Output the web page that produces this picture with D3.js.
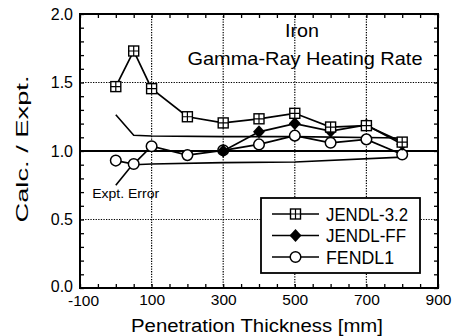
<!DOCTYPE html>
<html><head><meta charset="utf-8">
<script src="https://cdn.jsdelivr.net/npm/d3@7"></script>
<style>body{margin:0;background:#fff}svg{display:block}text{font-family:"Liberation Sans",Arial,sans-serif;fill:#000}</style>
</head><body><svg id="c" width="460" height="336"></svg>
<script>
const xLabels = [-100, 100, 300, 500, 700, 900];
const yLabels = [0.0, 0.5, 1.0, 1.5, 2.0];
const xGrid = [100, 300, 500, 700];
const yGrid = [0.5, 1.5];
const thick = [0, 50, 100, 200, 300, 400, 500, 600, 700, 800];
const jendl32 = [1.47, 1.73, 1.455, 1.25, 1.205, 1.235, 1.275, 1.175, 1.185, 1.065];
const ffThick = [300, 400, 500, 600, 700, 800];
const jendlFF = [1.0, 1.14, 1.2, 1.145, 1.19, 1.05];
const fendl1 = [0.93, 0.905, 1.035, 0.97, 1.005, 1.048, 1.112, 1.06, 1.085, 0.975];
const errThick = [0, 50, 100, 300, 500, 800];
const errUpper = [1.265, 1.115, 1.11, 1.105, 1.105, 1.095];
const errLower = [null, 0.90, 0.905, 0.915, 0.92, 0.955];
const seriesNames = ["JENDL-3.2", "JENDL-FF", "FENDL1"];

const svg = d3.select("#c");
const x = d3.scaleLinear([-100, 900], [80, 438]);
const y = d3.scaleLinear([0, 2], [288, 14]);

// grid
svg.append("g").selectAll("line").data(xGrid).join("line")
  .attr("x1", d => x(d)).attr("x2", d => x(d)).attr("y1", y(0)).attr("y2", y(2))
  .attr("stroke", "#000").attr("stroke-width", 1.2).attr("stroke-dasharray", "1.3,1.3");
svg.append("g").selectAll("line").data(yGrid).join("line")
  .attr("y1", d => y(d)).attr("y2", d => y(d)).attr("x1", x(-100)).attr("x2", x(900))
  .attr("stroke", "#000").attr("stroke-width", 1.2).attr("stroke-dasharray", "1.3,1.3");
svg.append("line").attr("x1", x(-100)).attr("x2", x(900)).attr("y1", y(1)).attr("y2", y(1))
  .attr("stroke", "#000").attr("stroke-width", 2);

// minor ticks via axes
const xMinor = d3.range(-100, 901, 50), yMinor = d3.range(0, 2.001, 0.1);
function tickAxis(gen, tr) {
  const g = svg.append("g").attr("transform", tr).call(gen);
  g.select(".domain").remove(); g.selectAll("text").remove();
  g.selectAll("line").attr("stroke-width", 1.3);
}
tickAxis(d3.axisBottom(x).tickValues(xMinor).tickSize(-4), `translate(0,${y(0)})`);
tickAxis(d3.axisTop(x).tickValues(xMinor).tickSize(-4), `translate(0,${y(2)})`);
tickAxis(d3.axisLeft(y).tickValues(yMinor).tickSize(-4), `translate(${x(-100)},0)`);
tickAxis(d3.axisRight(y).tickValues(yMinor).tickSize(-4), `translate(${x(900)},0)`);

// labels
const xa = svg.append("g").attr("transform", `translate(0,${y(0)})`)
  .call(d3.axisBottom(x).tickValues(xLabels).tickSize(0).tickPadding(6).tickFormat(d => String(d)));
xa.select(".domain").remove();
xa.selectAll("text").attr("font-size", 15.5).attr("font-family", "Liberation Sans, Arial, sans-serif")
  .attr("dx", d => d === -100 ? 3 : 0).attr("dy", d => d === -100 ? "0.78em" : "0.71em");
const ya = svg.append("g").attr("transform", `translate(${x(-100)},0)`)
  .call(d3.axisLeft(y).tickValues(yLabels).tickSize(0).tickPadding(7).tickFormat(d3.format(".1f")));
ya.select(".domain").remove();
ya.selectAll("text").attr("font-size", 16).attr("font-family", "Liberation Sans, Arial, sans-serif")
  .attr("dy", d => d === 0 ? "0.22em" : "0.32em");

// frame
svg.append("rect").attr("x", x(-100)).attr("y", y(2)).attr("width", x(900) - x(-100)).attr("height", y(0) - y(2))
  .attr("fill", "none").attr("stroke", "#000").attr("stroke-width", 2);

// error band
const line = d3.line().defined(d => d[1] != null).x(d => x(d[0])).y(d => y(d[1]));
svg.append("path").attr("d", line(errThick.map((t, i) => [t, errUpper[i]]))).attr("fill", "none").attr("stroke", "#000").attr("stroke-width", 1.6);
svg.append("path").attr("d", line(errThick.map((t, i) => [t, errLower[i]]))).attr("fill", "none").attr("stroke", "#000").attr("stroke-width", 1.6);
svg.append("line").attr("x1", x(0)).attr("y1", y(0.75)).attr("x2", x(48)).attr("y2", y(0.905)).attr("stroke", "#000").attr("stroke-width", 1.6);
svg.append("text").attr("x", x(-66)).attr("y", y(0.655)).attr("font-size", 12.5)
  .attr("textLength", 67).attr("lengthAdjust", "spacingAndGlyphs").text("Expt. Error");

// series
function drawSeries(xs, ys, kind) {
  const pts = xs.map((t, i) => [t, ys[i]]);
  svg.append("path").attr("d", line(pts)).attr("fill", "none").attr("stroke", "#000").attr("stroke-width", 1.7);
  const g = svg.append("g");
  pts.forEach(p => marker(g, x(p[0]), y(p[1]), kind));
}
function marker(g, cx, cy, kind) {
  if (kind === 0) {
    g.append("rect").attr("x", cx - 5).attr("y", cy - 5).attr("width", 10).attr("height", 10).attr("fill", "#fff").attr("stroke", "#000").attr("stroke-width", 1.4);
    g.append("path").attr("d", `M${cx - 5},${cy}H${cx + 5}M${cx},${cy - 5}V${cy + 5}`).attr("stroke", "#000").attr("stroke-width", 1.2);
  } else if (kind === 1) {
    g.append("path").attr("d", `M${cx},${cy - 6.5}L${cx + 6},${cy}L${cx},${cy + 6.5}L${cx - 6},${cy}Z`).attr("fill", "#000");
  } else {
    g.append("circle").attr("cx", cx).attr("cy", cy).attr("r", 5.3).attr("fill", "#fff").attr("stroke", "#000").attr("stroke-width", 1.5);
  }
}
drawSeries(thick, fendl1, 2);
drawSeries(ffThick, jendlFF, 1);
drawSeries(thick, jendl32, 0);

// title
svg.append("text").attr("x", 302).attr("y", 37).attr("text-anchor", "middle").attr("font-size", 19)
  .attr("textLength", 34).attr("lengthAdjust", "spacingAndGlyphs").text("Iron");
svg.append("text").attr("x", 305).attr("y", 65).attr("text-anchor", "middle").attr("font-size", 18.5)
  .attr("textLength", 235).attr("lengthAdjust", "spacingAndGlyphs").text("Gamma-Ray Heating Rate");

// legend
const lg = svg.append("g");
lg.append("rect").attr("x", 261).attr("y", 198).attr("width", 159).attr("height", 75).attr("fill", "#fff").attr("stroke", "#000").attr("stroke-width", 1.8);
const legW = [82, 80, 68];
seriesNames.forEach((n, i) => {
  const ly = 214 + i * 21.5;
  lg.append("line").attr("x1", 272).attr("x2", 319).attr("y1", ly).attr("y2", ly).attr("stroke", "#000").attr("stroke-width", 1.6);
  marker(lg, 295.5, ly, i);
  lg.append("text").attr("x", 326).attr("y", ly + 6.5).attr("font-size", 17.5)
    .attr("textLength", legW[i]).attr("lengthAdjust", "spacingAndGlyphs").text(n);
});

// axis titles
svg.append("text").attr("x", 257).attr("y", 332).attr("text-anchor", "middle").attr("font-size", 18)
  .attr("textLength", 252).attr("lengthAdjust", "spacingAndGlyphs").text("Penetration Thickness  [mm]");
svg.append("text").attr("transform", "translate(28,149) rotate(-90)").attr("text-anchor", "middle").attr("font-size", 17)
  .attr("textLength", 147).attr("lengthAdjust", "spacingAndGlyphs").text("Calc. / Expt.");
</script></body></html>
